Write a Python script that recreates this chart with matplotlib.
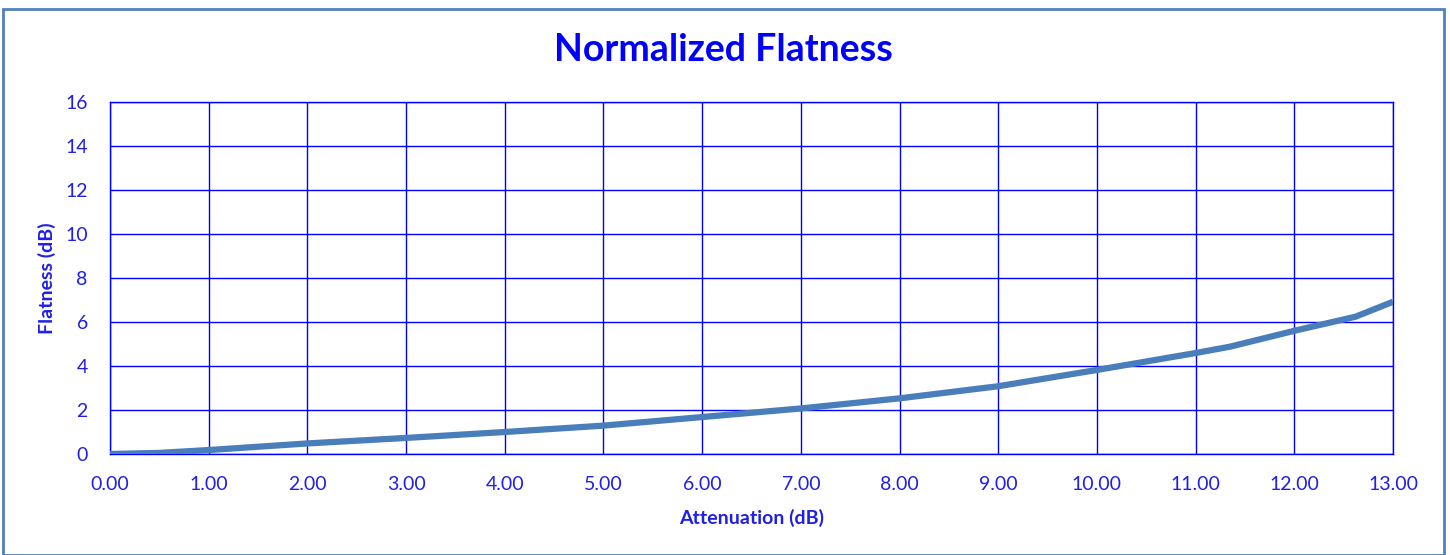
import numpy as np
import matplotlib
matplotlib.use("Agg")
import matplotlib.pyplot as plt
from matplotlib.patches import Rectangle

#%% Data
atten_db = [0.0, 0.5, 1.0, 2.0, 3.0, 4.0, 5.0, 6.0, 7.0, 8.0, 9.0, 10.0, 11.0, 11.35, 12.0, 12.62, 13.0]
flatness_db = [0.0, 0.05, 0.18, 0.48, 0.73, 1.0, 1.29, 1.68, 2.07, 2.53, 3.08, 3.82, 4.59, 4.88, 5.6, 6.24, 6.92]

x_ticks = np.arange(0, 14, 1)
y_ticks = np.arange(0, 18, 2)

BLUE = '#0000FF'
TXT = '#1F1FE8'
LINE = '#4A7EBB'

plt.rcParams['font.family'] = ['Lato', 'DejaVu Sans']

#%% Plot
fig = plt.figure(figsize=(14.5, 5.55), dpi=100)
ax = fig.add_axes([110/1450, 1-454/555, (1393-110)/1450, (454-102)/555])

ax.plot(atten_db, flatness_db, color=LINE, lw=4.5, solid_capstyle='butt', zorder=3)

ax.set_xlim(0, 13)
ax.set_ylim(0, 16)
ax.set_xticks(x_ticks)
ax.set_xticklabels(['%.2f' % v for v in x_ticks])
ax.set_yticks(y_ticks)
ax.grid(True, color=BLUE, lw=1)
ax.tick_params(length=0, colors=TXT, labelsize=14)
ax.tick_params(axis='x', pad=16)
ax.tick_params(axis='y', pad=16)
for sp in ax.spines.values():
    sp.set_color(BLUE)
    sp.set_linewidth(1)

ax.set_xlabel('Attenuation (dB)', color=TXT, fontsize=14, fontweight='bold', labelpad=11)
ax.set_ylabel('Flatness (dB)', color=TXT, fontsize=14, fontweight='bold')
ax.yaxis.set_label_coords(-(110-56)/1283, 0.5)

fig.text(723/1450, 1-50/555, 'Normalized Flatness', color=BLUE, fontsize=27,
         fontweight='bold', ha='center', va='center')

# chart border
fig.patches.append(Rectangle((3/1450, 0), 1441/1450, 1-9/555, transform=fig.transFigure,
                             fill=False, edgecolor='#4F81BD', lw=2))

fig.savefig('out.png', dpi=100)
